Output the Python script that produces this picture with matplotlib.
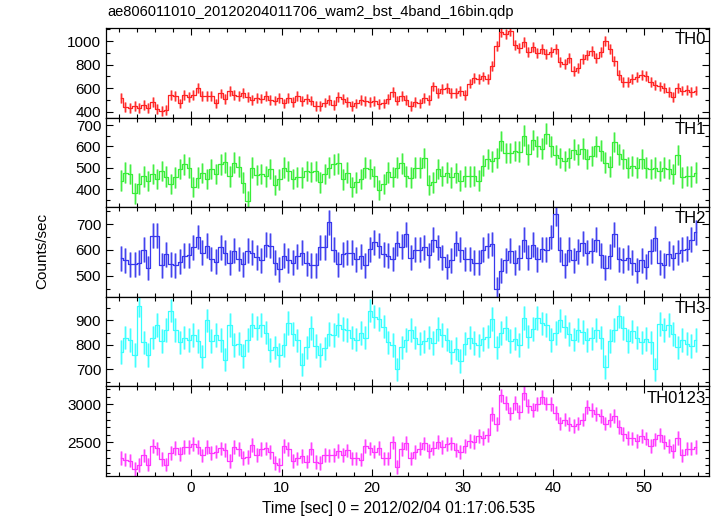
import numpy as np
import matplotlib
matplotlib.use("Agg")
import matplotlib.pyplot as plt
import matplotlib.ticker as ticker

plt.rcParams['font.family'] = ['Liberation Sans', 'DejaVu Sans']

# time bins (0.5 s) starting at -8 s
t_start = -8.0
bin_size = 0.5

th0 = [520, 440, 430, 445, 430, 460, 430, 486, 420, 405, 412, 540, 535, 470, 540, 526,
       545, 605, 535, 530, 535, 470, 555, 506, 575, 540, 535, 560, 525, 498, 515, 512,
       535, 500, 495, 515, 470, 520, 486, 530, 492, 510, 495, 450, 445, 478, 500, 455,
       526, 505, 480, 450, 470, 500, 492, 485, 490, 465, 470, 506, 565, 495, 530, 500,
       450, 485, 470, 520, 500, 615, 560, 590, 600, 560, 560, 575, 540, 640, 690, 675,
       700, 679, 790, 960, 1075, 1060, 1090, 966, 940, 990, 910, 950, 900, 935, 890, 905,
       930, 820, 808, 860, 750, 775, 850, 880, 920, 860, 905, 1000, 930, 830, 710, 655,
       655, 679, 695, 715, 705, 650, 630, 615, 600, 570, 525, 600, 580, 585, 570, 580]

th1 = [440, 477, 470, 380, 425, 460, 438, 470, 446, 485, 458, 423, 455, 495, 516, 500,
       410, 454, 475, 446, 495, 470, 516, 525, 460, 524, 505, 430, 345, 500, 465, 470,
       460, 493, 420, 445, 500, 485, 446, 456, 455, 485, 480, 485, 431, 470, 500, 516,
       520, 445, 477, 410, 431, 446, 500, 493, 460, 395, 423, 478, 456, 500, 520, 460,
       454, 500, 500, 545, 420, 431, 495, 462, 477, 455, 475, 440, 460, 460, 462, 440,
       510, 540, 530, 545, 625, 570, 570, 578, 575, 650, 563, 630, 600, 590, 660, 600,
       560, 545, 532, 545, 585, 563, 590, 540, 555, 600, 580, 524, 505, 620, 563, 540,
       500, 508, 500, 540, 501, 495, 500, 485, 500, 495, 470, 560, 455, 462, 460, 477]

th2 = [568, 560, 545, 545, 551, 600, 530, 655, 655, 540, 584, 545, 540, 555, 577, 580,
       610, 650, 590, 616, 565, 555, 610, 590, 550, 597, 565, 545, 597, 590, 571, 560,
       620, 616, 550, 526, 577, 560, 551, 575, 590, 548, 540, 540, 610, 610, 706, 600,
       545, 584, 590, 590, 564, 575, 540, 603, 630, 616, 584, 577, 565, 625, 612, 660,
       570, 600, 600, 610, 580, 640, 610, 572, 535, 560, 625, 600, 565, 565, 551, 550,
       600, 616, 623, 448, 520, 560, 597, 551, 570, 640, 570, 620, 564, 603, 600, 650,
       739, 600, 540, 600, 560, 595, 625, 590, 597, 640, 580, 532, 575, 660, 564, 560,
       570, 550, 520, 560, 535, 595, 645, 550, 540, 585, 570, 590, 600, 605, 640, 668]

th3 = [772, 830, 820, 760, 960, 810, 760, 830, 882, 815, 860, 940, 860, 810, 830, 820,
       840, 815, 752, 900, 815, 840, 820, 740, 880, 800, 805, 755, 820, 880, 868, 880,
       850, 779, 790, 760, 800, 890, 845, 818, 720, 790, 870, 795, 759, 786, 845, 840,
       880, 865, 860, 830, 822, 848, 830, 940, 915, 905, 875, 810, 800, 700, 790, 820,
       860, 830, 805, 814, 830, 808, 865, 840, 822, 770, 785, 735, 805, 830, 808, 798,
       825, 834, 905, 790, 848, 870, 815, 826, 800, 910, 834, 865, 910, 888, 880, 820,
       848, 900, 875, 845, 822, 860, 852, 820, 827, 860, 830, 711, 815, 860, 916, 870,
       815, 855, 830, 810, 825, 810, 700, 885, 860, 880, 845, 790, 820, 805, 795, 820]

th0123 = [2300, 2275, 2262, 2150, 2200, 2330, 2210, 2450, 2421, 2280, 2210, 2360, 2430, 2350, 2440, 2440,
          2480, 2440, 2330, 2443, 2360, 2380, 2421, 2400, 2260, 2443, 2410, 2300, 2313, 2470, 2340, 2410,
          2421, 2378, 2230, 2200, 2450, 2410, 2255, 2291, 2320, 2250, 2420, 2247, 2226, 2340, 2330, 2334,
          2390, 2340, 2395, 2290, 2290, 2275, 2450, 2421, 2380, 2430, 2291, 2291, 2500, 2182, 2410, 2490,
          2290, 2378, 2420, 2487, 2390, 2430, 2508, 2440, 2480, 2487, 2400, 2378, 2450, 2520, 2508, 2580,
          2560, 2596, 2870, 2740, 3117, 3020, 2880, 3020, 2900, 3150, 2980, 2930, 3000, 3100, 3010, 3000,
          2890, 2750, 2800, 2740, 2715, 2748, 2800, 2965, 2925, 2870, 2850, 2748, 2790, 2850, 2704, 2610,
          2560, 2552, 2520, 2580, 2550, 2450, 2540, 2600, 2508, 2450, 2390, 2560, 2330, 2420, 2420, 2443]

names = ['TH0', 'TH1', 'TH2', 'TH3', 'TH0123']
series = [th0, th1, th2, th3, th0123]
errors = [42, 48, 48, 48, 90]
colors = ['#ff2424', '#38ee38', '#3838ee', '#38ffff', '#ff38ff']
ylims = [(350, 1112), (315, 735), (419, 765), (631, 996), (2060, 3235)]
major = [200, 100, 100, 100, 500]
minor = [100, 50, 50, 50, 100]

t = t_start + bin_size / 2 + bin_size * np.arange(len(th0))

fig = plt.figure(figsize=(7.17, 5.16), dpi=100)
left, width = 106 / 717, 603 / 717
h = 89.6 / 516
bottom0 = 40 / 516

for k, (name, vals) in enumerate(zip(names, series)):
    ax = fig.add_axes([left, bottom0 + (4 - k) * h, width, h])
    c = colors[k]
    # light wide vertical error bars
    ax.errorbar(t, vals, yerr=errors[k], fmt='none', ecolor=c, elinewidth=1.8, alpha=0.45)
    ax.errorbar(t, vals, yerr=errors[k], fmt='none', ecolor=c, elinewidth=0.8, alpha=0.9)
    # bin widths joined as a step trace
    ax.step(t, vals, where='mid', color=c, lw=0.9)
    ax.set_xlim(-9.4, 57.2)
    ax.set_ylim(*ylims[k])
    ax.xaxis.set_major_locator(ticker.MultipleLocator(10))
    ax.xaxis.set_minor_locator(ticker.MultipleLocator(2))
    ax.yaxis.set_major_locator(ticker.MultipleLocator(major[k]))
    ax.yaxis.set_minor_locator(ticker.MultipleLocator(minor[k]))
    ax.tick_params(which='both', direction='in', top=True, right=True, labelsize=11, width=0.8)
    ax.tick_params(which='major', length=5)
    ax.tick_params(which='minor', length=3)
    for s in ax.spines.values():
        s.set_linewidth(0.9)
    if k < 4:
        ax.tick_params(labelbottom=False)
    ax.text(0.995, 0.87, name, transform=ax.transAxes, ha='right', va='center', fontsize=12)

fig.text(107 / 717, 1 - 12 / 516, 'ae806011010_20120204011706_wam2_bst_4band_16bin.qdp',
         ha='left', va='center', fontsize=10.5)
fig.text(42 / 717, 1 - 251 / 516, 'Counts/sec', rotation=90, ha='center', va='center', fontsize=11)
fig.text(399 / 717, 1 - 509 / 516, 'Time [sec] 0 = 2012/02/04 01:17:06.535',
         ha='center', va='center', fontsize=11.2)

fig.savefig('out.png', dpi=100)
